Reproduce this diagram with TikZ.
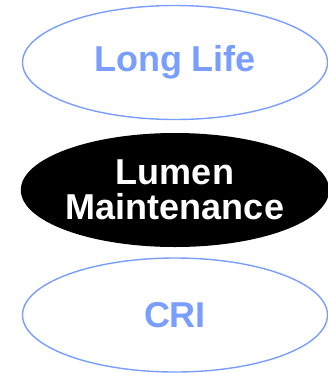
\documentclass[tikz,border=0pt]{standalone}
\usepackage{fontspec}
\setmainfont{Liberation Sans}
\usetikzlibrary{shapes.geometric}
\definecolor{ovalblue}{RGB}{122,158,255}

\begin{document}
\begin{tikzpicture}[x=1pt,y=-1pt,
    oval/.style={ellipse,minimum width=305pt,minimum height=114pt,inner sep=0pt,
      align=center,font=\fontsize{36}{36}\selectfont\bfseries},
    blueoval/.style={oval,draw=ovalblue,line width=1.4pt,text=ovalblue},
    blackoval/.style={oval,fill=black,text=white}]
       \useasboundingbox (0,0) rectangle (328,373);
       \node[blueoval]  (life)  at (175, 62.5) {Long Life};
       \node[blackoval] (lumen) at (175,190.0) {Lumen\\[-1pt]Maintenance};
       \node[blueoval]  (cri)   at (175,315.0) {CRI};
      \end{tikzpicture}
\end{document}
